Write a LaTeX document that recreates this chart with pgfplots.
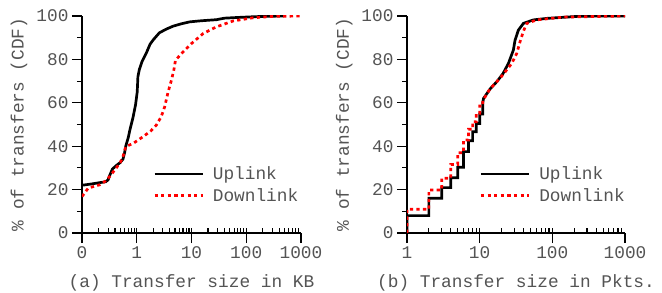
\documentclass[border=0pt]{standalone}
\usepackage{pgfplots}
\pgfplotsset{compat=1.18}
\usepackage{fontspec}
\setmainfont{Liberation Mono}
\definecolor{txt}{gray}{0.33}
\tikzset{
  up/.style={black, line width=2.7bp},
  down/.style={red, line width=2.7bp, dash pattern=on 3.3bp off 3.3bp},
}
\begin{document}
\begin{tikzpicture}
\useasboundingbox (0,0) rectangle (662bp,293bp);
\begin{axis}[at={(82bp,60bp)}, anchor=south west,
  scale only axis, width=219bp, height=217bp,
  xmode=log, ymin=0, ymax=100,
  ytick={0,20,40,60,80,100}, minor y tick num=1,
  axis x line*=bottom, axis y line*=left,
  axis line style={-, line width=1.3bp},
  tick align=outside,
  major tick length=10bp, minor tick length=5bp,
  tick style={black, line width=1.1bp},
  minor x tick style={yshift=5bp},
  /pgf/number format/assume math mode=true,
  tick label style={font=\fontsize{17.8bp}{20bp}\selectfont, text=txt},
  ylabel={\% of transfers (CDF)},
  every axis y label/.style={at={(axis description cs:-0.288,0.5)}, rotate=90, anchor=center, font=\fontsize{17.8bp}{20bp}\selectfont, text=txt},
  every axis x label/.style={at={(axis description cs:0.5,-0.23)}, anchor=center, font=\fontsize{17.8bp}{20bp}\selectfont, text=txt},
  legend style={draw=none, fill=none, inner sep=0pt,
    font=\fontsize{17.8bp}{20bp}\selectfont, text=txt,
    row sep=3bp, anchor=north west, at={(rel axis cs:0.324,0.315)}},
  legend cell align=left,
  legend image code/.code={\draw[#1] (0bp,0bp) -- (48bp,0bp); \path (55bp,0bp);},
  xmin=0.1, xmax=1000, xtick={0.1,1,10,100,1000}, xticklabels={0,1,10,100,1000},
  xlabel={(a) Transfer size in KB}]
\addplot[up] coordinates {(0.1,22)(0.15,22.6)(0.21,23.2)(0.27,23.6)(0.3,24.5)(0.32,26.5)(0.36,29.5)(0.42,31)(0.5,32.5)(0.56,34)(0.6,37)(0.63,40)(0.7,44)(0.75,47.5)(0.85,53)(0.95,59)(1.02,65)(1.05,72)(1.12,75.5)(1.25,79)(1.5,83)(1.75,87)(2,89)(2.6,92.3)(3.5,94)(4.6,95.3)(6.5,96.4)(9.3,97.3)(15,97.8)(28.6,98.3)(40,99)(80,99.4)(150,99.7)(300,99.9)(480,100)};
\addlegendentry{Uplink}
\addplot[down] coordinates {(0.1,16.8)(0.12,19.5)(0.13,20.7)(0.21,22.2)(0.27,24)(0.32,26)(0.42,29.9)(0.5,32.5)(0.56,35.2)(0.63,39.8)(0.86,41.3)(1.31,44.4)(1.8,47)(2.29,49.8)(2.8,53.6)(3.24,58.2)(3.74,65)(4.3,70.4)(4.75,75)(5.1,79.6)(6.56,82.7)(10,87.3)(16.3,91.9)(28.6,95)(57.5,97.7)(135,99.2)(300,99.8)(1000,100)};
\addlegendentry{Downlink}
\end{axis}
\begin{axis}[at={(407bp,60bp)}, anchor=south west,
  scale only axis, width=218bp, height=217bp,
  xmode=log, ymin=0, ymax=100,
  ytick={0,20,40,60,80,100}, minor y tick num=1,
  axis x line*=bottom, axis y line*=left,
  axis line style={-, line width=1.3bp},
  tick align=outside,
  major tick length=10bp, minor tick length=5bp,
  tick style={black, line width=1.1bp},
  minor x tick style={yshift=5bp},
  /pgf/number format/assume math mode=true,
  tick label style={font=\fontsize{17.8bp}{20bp}\selectfont, text=txt},
  ylabel={\% of transfers (CDF)},
  every axis y label/.style={at={(axis description cs:-0.288,0.5)}, rotate=90, anchor=center, font=\fontsize{17.8bp}{20bp}\selectfont, text=txt},
  every axis x label/.style={at={(axis description cs:0.5,-0.23)}, anchor=center, font=\fontsize{17.8bp}{20bp}\selectfont, text=txt},
  legend style={draw=none, fill=none, inner sep=0pt,
    font=\fontsize{17.8bp}{20bp}\selectfont, text=txt,
    row sep=3bp, anchor=north west, at={(rel axis cs:0.332,0.315)}},
  legend cell align=left,
  legend image code/.code={\draw[#1] (0bp,0bp) -- (48bp,0bp); \path (55bp,0bp);},
  xmin=1, xmax=1000, xtick={1,10,100,1000}, xticklabels={1,10,100,1000},
  xlabel={(b) Transfer size in Pkts.}]
\addplot[up] coordinates {(1,0)(1,8)(2,8)(2,16)(3,16)(3,20.9)(4,20.9)(4,25.5)(5,25.5)(5,30.3)(6,30.3)(6,37.5)(7,37.5)(7,42.5)(8,42.5)(8,46.7)(9,46.7)(9,50.5)(10,50.5)(10,54.8)(11,54.8)(11,59.8)(11.3,62)(14,66.5)(17.2,69.7)(21,73.5)(24.9,78.2)(29.1,84.3)(30.7,88.9)(34.1,93.5)(40,96.6)(54.8,98.2)(83.7,98.9)(240,99.9)(1000,100)};
\addlegendentry{Uplink}
\addplot[down] coordinates {(1,0)(1,10.9)(2,10.9)(2,19.8)(3,19.8)(3,25.2)(4,25.2)(4,31.6)(5,31.6)(5,37)(6,37)(6,42.9)(7,42.9)(7,47.8)(8,47.8)(8,51.3)(9,51.3)(9,55.2)(10,55.2)(10,58.5)(11,58.5)(11,61)(12,63)(14,66.6)(17.2,69.7)(21,73)(27.7,78.2)(32.4,82.8)(36,88.2)(40,93)(44.5,96.6)(61,98.2)(142,99.5)(1000,100)};
\addlegendentry{Downlink}
\end{axis}
\end{tikzpicture}
\end{document}
